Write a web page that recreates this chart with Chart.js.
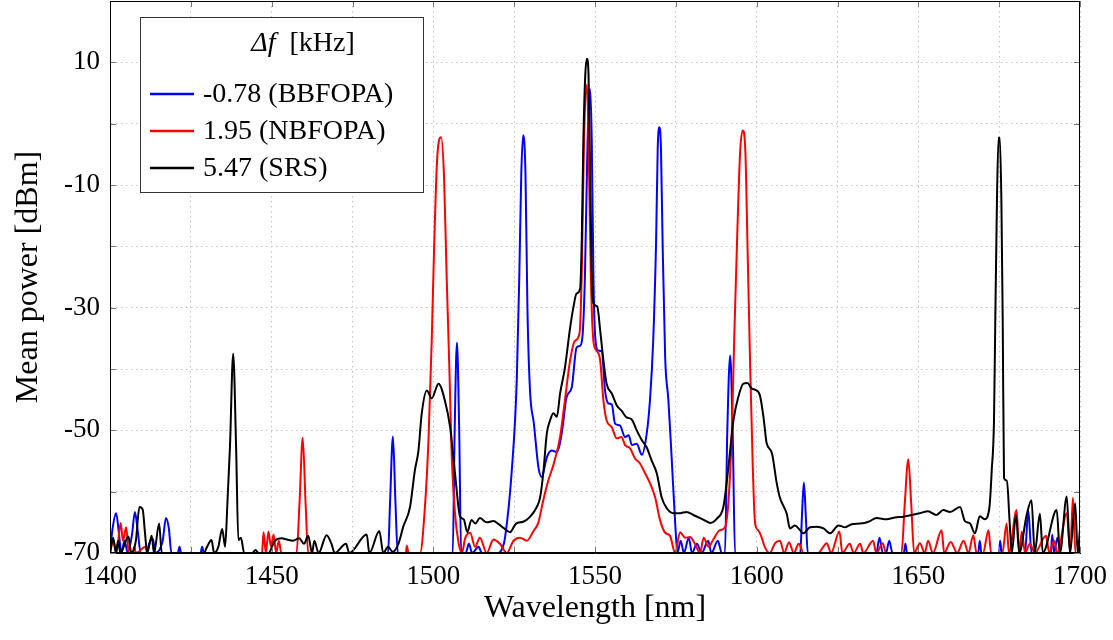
<!DOCTYPE html>
<html>
<head>
<meta charset="utf-8">
<script src="https://cdn.jsdelivr.net/npm/chart.js@4.4.0/dist/chart.umd.min.js"></script>
<style>
  html, body { margin:0; padding:0; background:#fff; }
  #wrap { width:1113px; height:640px; }
</style>
</head>
<body>
<div id="wrap"><canvas id="spectrum" width="1113" height="640"></canvas></div>
<script>
/* Output spectra for three frequency offsets — wavelength [nm] vs mean power [dBm] */

const seriesLabels = ['-0.78 (BBFOPA)', '1.95 (NBFOPA)', '5.47 (SRS)'];
const seriesColors = ['#0000ff', '#ff0000', '#000000'];

const xTickLabels = [1400, 1450, 1500, 1550, 1600, 1650, 1700];
const yTickLabels = [-70, -50, -30, -10, 10];

// -0.78 kHz (BBFOPA)
const blueWl = [1400,1400.8,1401.9,1402.8,1403.5,1404.5,1405.5,1406.8,1407.7,1408.6,1409.5,1411,1412.5,1413.3,1414,1416.3,1417.3,1418.2,1419,1421,1421.5,1422,1428,1428.5,1429,
  1486,1486.6,1487.5,1488.3,1489,1506,1506.6,1507.3,1508,1508.6,1510,1511,1512,1514,1515,1520,1521.5,1522.2,1524.2,1525.8,1526.6,1527.2,1527.8,1528.5,1529.1,1529.9,1531.1,
  1532.5,1533.5,1535.1,1536.6,1538.2,1539.7,1541.2,1542.8,1544.3,1545.4,1546.2,1546.9,1547.7,1548.5,1549,1549.5,1550,1551,1552.1,1553.1,1554.1,1555.2,1556.2,1557.7,
  1559.3,1560.4,1561.4,1562.9,1564.5,1566,1567,1568,1568.9,1569.4,1569.9,1570.4,1570.9,1571.7,1572.7,1573.7,1574.8,1575.5,1576.5,1577.5,1579,1580,1581.5,1583,1585,1586,
  1588,1589.2,1590.2,1590.9,1591.8,1592.6,1593.3,1613.5,1614,1614.6,1615.2,1615.8,1637,1638,1639,1640,1641,1642,1645.5,1646,1646.5,1668.5,1669,1669.5,1675,1675.3,1675.8,
  1683,1684,1685,1691,1691.4,1692,1693,1694,1700];
const bluePow = [-70,-66,-63.5,-67,-70,-68,-70,-67,-63.3,-66.5,-70,-70,-68,-67.7,-70,-68,-64.3,-66,-70,-70,-69,-70,-70,-69,-70,
  -70,-62,-51,-62,-70,-70,-50,-35.7,-50,-70,-70,-68.5,-70,-69,-70,-70,-69,-67.4,-57,-41.9,-24.5,-8.2,-1.9,-8.2,-30,-43.5,-48.9,
  -56,-57.6,-54.4,-53.3,-53.5,-50.5,-44.6,-43,-36.5,-36.2,-34.2,-24.5,-2.8,5.6,-2.8,-24.5,-34.2,-37,-37.1,-43.5,-45.6,-45.8,-48.9,-49.2,
  -51.1,-50.8,-52.4,-52.2,-54,-50.5,-45.1,-35.4,-19.1,-4,-0.6,-4,-19.1,-38.1,-45.1,-54.4,-65.1,-70,-68,-70,-67.5,-70,-68.5,-70,-68,-70,
  -68,-70,-70,-50.5,-37.8,-50.5,-70,-70,-64,-58.5,-64,-70,-70,-67.5,-70,-70,-68,-70,-70,-68.5,-70,-70,-68,-70,-70,-68,-70,
  -70,-63,-70,-70,-67,-70,-67.5,-70,-70];

// 1.95 kHz (NBFOPA)
const redWl = [1400,1401,1402,1403.3,1404,1405,1405.8,1407,1407.5,1408,1411,1411.5,1447,1447.5,1448.2,1449,1449.8,1450.6,1451.4,1452.2,1453,
  1457.7,1458.6,1459.6,1460.5,1461.3,1491.5,1491.8,1492.3,1495.9,1497.4,1498.5,1499.5,1500.3,1501.2,1502.4,1503.3,1504.1,1505,1505.7,1506.7,1507.7,
  1508.8,1509.9,1511.4,1512.9,1514.4,1516.5,1518.6,1520.6,1522.7,1524.8,1526.8,1528.9,1530.9,1532.5,1534,1535.6,1537.1,1539.2,1540.7,1542.3,1543.8,
  1545.2,1545.9,1546.6,1547.5,1548,1548.7,1549.5,1550.5,1551.6,1552.6,1553.6,1555.2,1556.7,1558.2,1559.3,1560.8,1562.4,1563.9,1565.5,1567,1568.6,
  1570.1,1571.7,1573.2,1574.8,1576.3,1577.9,1579.4,1580.9,1582.5,1583.6,1585.1,1586.6,1588.5,1590.2,1591.3,1592.3,1593.1,1594,1594.9,1595.7,1596.5,
  1597.2,1598,1598.8,1599.5,1600.5,1601.5,1602.5,1604,1605.7,1607.2,1608.5,1610,1611.5,1613,1614.5,1619,1621.7,1623,1625.6,1626.5,1628.8,1630,1632,
  1633,1636,1637,1639,1640,1644.8,1645.8,1646.9,1647.8,1648.7,1650.5,1652,1653,1654.5,1657.2,1658,1660,1662,1664,1665.5,1667,1668,1670,1671.7,1672.5,
  1676,1677.3,1678,1680.4,1681.2,1682,1683,1684.5,1686,1689.5,1690.5,1692,1693,1695.9,1697,1697.8,1698.6,1700];
const redPow = [-70,-68,-70,-65.1,-68,-65.8,-70,-70,-69,-70,-69,-70,-70,-66.6,-70,-66.5,-69,-67,-70,-68,-70,
  -70,-62,-51.2,-62,-70,-70,-68.8,-70,-70,-62.5,-51.6,-35.4,-19.1,-5.6,-2.2,-8.5,-24.5,-40.7,-54.4,-63.5,-68,
  -70,-67.5,-66.7,-69,-67.5,-70,-67.8,-68.5,-70,-68,-67.5,-68,-66.5,-65,-61.4,-58.1,-55.7,-51.1,-45.1,-38.6,-35.4,
  -34.2,-24.5,-2.8,6.4,-2.8,-24.5,-35.4,-37,-38.6,-45.1,-48.4,-49.5,-51.3,-51.1,-52.4,-52.9,-54.6,-55.4,-57,-58.6,-60.9,
  -64.6,-66.7,-67.2,-70,-66.6,-67.5,-67.4,-68.5,-70,-67.5,-69,-67.8,-66.3,-65.8,-61.4,-50.5,-34.2,-18,-4.5,-1.1,-4.5,
  -20.7,-39.8,-56,-65.1,-66.3,-67.4,-69,-70,-68.4,-68,-70,-68.3,-70,-68.5,-70,-70,-68.4,-70,-66.5,-70,-68.5,-70,-68.5,
  -70,-68,-70,-68.4,-70,-70,-62,-54.7,-62,-70,-68.4,-70,-68,-70,-66.3,-70,-68.2,-70,-68,-70,-67.1,-70,-70,-66.3,-70,
  -70,-65.2,-70,-63,-70,-66.5,-70,-68.5,-70,-67.2,-70,-68,-70,-63.5,-70,-61,-70,-70];

// 5.47 kHz (SRS)
const blackWl = [1400,1401,1401.8,1402.5,1403.2,1405.7,1406.6,1408,1409.1,1410.1,1410.8,1411.5,1412.9,1413.6,1415.2,1416,1429,1430,1431.4,1432.2,
  1433.5,1434.7,1435.6,1436.3,1437.1,1438.1,1439,1439.7,1440.5,1441.5,1444,1445,1446,1449,1451,1453.1,1454.7,1456.6,1458.5,1460,1461.3,1462.5,1463.2,
  1464.5,1467,1468.5,1469.5,1473,1474,1479.4,1480.2,1483.3,1484.5,1486,1487.4,1489.2,1490.7,1492.8,1494.3,1495.4,1496.4,1498,1499.5,1501.6,1503.6,
  1505.2,1506.7,1508.3,1509.4,1510.5,1511.8,1513,1514.4,1516.5,1518.6,1520.2,1521.7,1523.7,1525.6,1527.8,1529.9,1532,1533,1534,1535.1,1536.1,1537.1,
  1538.2,1539.2,1540.7,1542.3,1543.3,1544.3,1545.4,1545.9,1546.4,1547,1547.5,1548,1548.5,1549,1549.5,1550.7,1551.6,1552.6,1553.6,1555.2,1556.7,1558.2,
  1559.8,1561.3,1562.9,1564.5,1566,1567.5,1569.1,1570.6,1572.2,1574.2,1576.3,1578.3,1580.4,1582.5,1584,1585.6,1587.7,1589.7,1590.7,1591.8,1592.8,1594.3,
  1595.9,1597.1,1598.5,1599.6,1601,1602.1,1603.1,1604.7,1606.2,1607.2,1609.3,1610.3,1611.8,1613.3,1614.4,1616.5,1618.6,1620.7,1622.7,1625.3,1627.4,
  1629.4,1632,1634.6,1637.1,1640.2,1642.8,1645.4,1648,1650.5,1653,1655.6,1657.7,1659.8,1662.9,1664.4,1666,1667.5,1669,1670.5,1672,1672.7,1673.4,1673.8,
  1674.3,1674.8,1675.2,1675.7,1676.1,1676.5,1677.4,1678.2,1678.9,1680.2,1681.2,1683.5,1685,1686,1687.6,1688.5,1692.8,1693.8,1695.9,1696.9,1698.5,1699.3,1700];
const blackPow = [-70,-67.5,-70,-68,-70,-67.3,-70,-68,-62.5,-62.9,-66.6,-70,-67.2,-70,-65.2,-70,-70,-69,-67.9,-70,
  -69,-66.1,-69,-62,-52.7,-37.5,-52.7,-67.9,-67.5,-70,-70,-69.5,-70,-70,-68,-67.6,-67.8,-68,-67.6,-68.5,-67.2,-70,-68,
  -70,-67.1,-68.5,-70,-68.5,-70,-67,-70,-66.4,-70,-69,-69.8,-68.5,-65.7,-62.5,-56.5,-53.3,-47.3,-43.5,-44.8,-42.4,-45.2,
  -49.5,-57,-64.1,-64.5,-66.6,-64.6,-65.2,-64.3,-65,-64.8,-65.3,-65.9,-66.6,-65.2,-64.9,-64.1,-62.5,-61,-57,-50.5,-48.4,-47.2,
  -47.8,-44,-39.8,-33.3,-30,-27.7,-26.9,-19.1,-2.8,8,10.6,8,-8.2,-24.5,-29.3,-29.8,-33.7,-38.6,-42.4,-44,-45.9,-46.8,
  -47.9,-48.2,-50,-51.6,-52.8,-54.9,-57,-60.9,-62.7,-63.5,-63.5,-63.3,-63.8,-64.3,-64.7,-65.1,-64.4,-62.5,-58.6,-53.3,-48.4,-44.6,
  -42.4,-42.3,-43.2,-43.4,-44.3,-47.8,-52.1,-53.7,-58.6,-61,-63.6,-66,-65.5,-66.2,-66.8,-65.8,-65.7,-66,-66.8,-65.5,-65.8,
  -65.3,-65.2,-64.9,-64.3,-64.5,-64.2,-64.1,-63.8,-63.5,-63.2,-63.8,-63,-63.3,-62.5,-64.8,-65.2,-66.8,-64,-64.5,-62.5,-56.5,-48.4,-32.1,
  -13.1,-2.3,-2.3,-13.1,-32.1,-57.8,-58.2,-64.6,-70,-63.8,-70,-63.8,-61.4,-70,-63.6,-70,-63,-70,-60.8,-70,-61.9,-70,-66];

const FONT = "'Liberation Serif', 'DejaVu Serif', serif";

function toPoints(wl, pow){
  return wl.map((x, i) => ({ x, y: pow[i] }));
}

// inward tick marks + closed frame, like the original figure
const framePlugin = {
  id:'frame',
  afterDatasetsDraw(chart){
    const { ctx, chartArea:a, scales } = chart;
    ctx.save();
    ctx.strokeStyle = '#777';
    ctx.lineWidth = 1;
    const len = 6;
    scales.y.ticks.forEach(t => {
      const y = Math.round(scales.y.getPixelForValue(t.value)) + 0.5;
      ctx.beginPath();
      ctx.moveTo(a.left, y); ctx.lineTo(a.left + len, y);
      ctx.moveTo(a.right, y); ctx.lineTo(a.right - len, y);
      ctx.stroke();
    });
    scales.x.ticks.forEach(t => {
      const x = Math.round(scales.x.getPixelForValue(t.value)) + 0.5;
      ctx.beginPath();
      ctx.moveTo(x, a.bottom); ctx.lineTo(x, a.bottom - len);
      ctx.moveTo(x, a.top); ctx.lineTo(x, a.top + len);
      ctx.stroke();
    });
    ctx.strokeStyle = '#000';
    ctx.strokeRect(Math.round(a.left) + 0.5, Math.round(a.top) + 0.5, Math.round(a.right - a.left) - 1, Math.round(a.bottom - a.top) - 1);
    ctx.restore();
  }
};

// boxed legend with a title, placed inside the plot
const legendPlugin = {
  id:'boxLegend',
  afterDraw(chart){
    const { ctx, chartArea:a } = chart;
    const x0 = Math.round(a.left) + 30, y0 = Math.round(a.top) + 16;
    const w = 283, h = 175;
    ctx.save();
    ctx.fillStyle = '#fff';
    ctx.fillRect(x0, y0, w, h);
    ctx.strokeStyle = '#333';
    ctx.lineWidth = 1;
    ctx.strokeRect(x0 + 0.5, y0 + 0.5, w, h);

    // title: italic Δf + [kHz]
    ctx.fillStyle = '#000';
    ctx.textBaseline = 'middle';
    const italic = 'italic 28px ' + FONT, normal = '28px ' + FONT;
    ctx.font = italic; const w1 = ctx.measureText('\u0394f').width;
    ctx.font = normal; const w2 = ctx.measureText('  [kHz]').width;
    let tx = x0 + 163 - (w1 + w2) / 2;
    ctx.font = italic; ctx.textAlign = 'left'; ctx.fillText('\u0394f', tx, y0 + 27);
    ctx.font = normal; ctx.fillText('  [kHz]', tx + w1, y0 + 27);

    chart.data.datasets.forEach((ds, i) => {
      const y = y0 + 77 + i * 37;
      ctx.strokeStyle = ds.borderColor;
      ctx.lineWidth = 2.5;
      ctx.beginPath();
      ctx.moveTo(x0 + 10, y); ctx.lineTo(x0 + 54, y);
      ctx.stroke();
      ctx.fillStyle = '#000';
      ctx.font = normal;
      ctx.fillText(ds.label, x0 + 63, y + 1);
    });
    ctx.restore();
  }
};

const datasets = [
  { label: seriesLabels[0], data: toPoints(blueWl, bluePow), borderColor: seriesColors[0], order: 3 },
  { label: seriesLabels[1], data: toPoints(redWl, redPow), borderColor: seriesColors[1], order: 2 },
  { label: seriesLabels[2], data: toPoints(blackWl, blackPow), borderColor: seriesColors[2], order: 1 }
].map(d => Object.assign(d, {
  borderWidth: 2,
  pointRadius: 0,
  fill: false,
  cubicInterpolationMode: 'monotone'
}));

new Chart(document.getElementById('spectrum'), {
  type: 'line',
  data: { datasets },
  options: {
    responsive: false,
    animation: false,
    devicePixelRatio: 1,
    layout: { padding: { top: 1, right: 33, left: 0, bottom: 0 } },
    plugins: { legend: { display: false }, tooltip: { enabled: false } },
    scales: {
      x: {
        type: 'linear', min: 1400, max: 1700,
        afterFit: s => { s.height = 87; s.paddingLeft = 0; s.paddingRight = 0; },
        ticks: {
          stepSize: 25, color: '#000', padding: 8,
          font: { family: FONT, size: 27 },
          maxRotation: 0, autoSkip: false,
          callback: v => xTickLabels.includes(v) ? String(v) : ''
        },
        grid: { color: '#c4c4c4', lineWidth: 1, drawTicks: false },
        border: { display: true, color: '#000', dash: [1.5, 3.5] },
        title: {
          display: true, text: 'Wavelength [nm]', color: '#000',
          font: { family: FONT, size: 32 }, padding: { top: 0, bottom: 12 }
        }
      },
      y: {
        type: 'linear', min: -70, max: 20,
        afterFit: s => { s.width = 110; s.paddingTop = 0; s.paddingBottom = 0; },
        ticks: {
          stepSize: 10, color: '#000', padding: 10,
          font: { family: FONT, size: 27 },
          autoSkip: false,
          callback: v => yTickLabels.includes(v) ? String(v) : ''
        },
        grid: { color: '#c4c4c4', lineWidth: 1, drawTicks: false },
        border: { display: true, color: '#000', dash: [1.5, 3.5] },
        title: {
          display: true, text: 'Mean power [dBm]', color: '#000',
          font: { family: FONT, size: 32 }, padding: { top: 9, bottom: 0 }
        }
      }
    }
  },
  plugins: [framePlugin, legendPlugin]
});
</script>
</body>
</html>
